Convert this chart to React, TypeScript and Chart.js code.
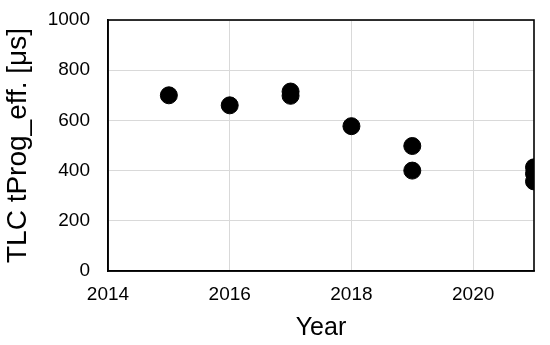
import React, { useEffect, useRef } from "react";
import { Chart, registerables } from "chart.js";

Chart.register(...registerables);

const years = [2015, 2016, 2017, 2017, 2018, 2019, 2019, 2021, 2021, 2021];
const tProgValues = [700, 660, 715, 698, 577, 498, 400, 413, 388, 357];
const xTickLabels = [2014, 2016, 2018, 2020];
const yTickLabels = [0, 200, 400, 600, 800, 1000];

const frame = {
  id: "frame",
  afterDatasetsDraw(chart: any) {
    const { ctx, chartArea } = chart;
    ctx.save();
    ctx.strokeStyle = "#000";
    ctx.lineWidth = 1.6;
    ctx.strokeRect(chartArea.left, chartArea.top, chartArea.right - chartArea.left, chartArea.bottom - chartArea.top);
    ctx.restore();
  },
};

export default function App() {
  const ref = useRef<HTMLCanvasElement>(null);
  useEffect(() => {
    const chart = new Chart(ref.current!, {
      type: "scatter",
      data: {
        datasets: [
          {
            data: years.map((x, i) => ({ x, y: tProgValues[i] })),
            backgroundColor: "#000",
            borderColor: "#000",
            pointRadius: 8.5,
            pointHoverRadius: 8.5,
          },
        ],
      },
      options: {
        animation: false,
        responsive: false,
        maintainAspectRatio: false,
        plugins: { legend: { display: false }, tooltip: { enabled: false } },
        layout: { padding: { top: 20, right: 16, left: 0, bottom: 0 } },
        scales: {
          x: {
            type: "linear",
            min: 2014,
            max: 2021,
            afterFit: (s: any) => { s.height = 74; s.paddingLeft = 0; s.paddingRight = 0; },
            afterBuildTicks: (s: any) => { s.ticks = xTickLabels.map((v) => ({ value: v })); },
            ticks: {
              includeBounds: false,
              stepSize: 2,
              padding: 12,
              color: "#000",
              font: { family: "Liberation Sans, Arial, sans-serif", size: 19 },
              callback: (v: any) => String(v),
            },
            grid: { color: "#d9d9d9", lineWidth: 1, drawTicks: false },
            border: { color: "#000", width: 1.6 },
            title: {
              display: true,
              text: "Year",
              color: "#000",
              font: { family: "Liberation Sans, Arial, sans-serif", size: 25 },
              padding: { top: 0, bottom: 2 },
            },
          },
          y: {
            type: "linear",
            min: 0,
            max: 1000,
            afterFit: (s: any) => { s.width = 108; s.paddingTop = 0; s.paddingBottom = 0; },
            afterBuildTicks: (s: any) => { s.ticks = yTickLabels.map((v) => ({ value: v })); },
            ticks: {
              padding: 18,
              color: "#000",
              font: { family: "Liberation Sans, Arial, sans-serif", size: 19 },
              callback: (v: any) => String(v),
            },
            grid: { color: "#d9d9d9", lineWidth: 1, drawTicks: false },
            border: { color: "#000", width: 1.6 },
            title: {
              display: true,
              text: "TLC tProg_eff. [μs]",
              color: "#000",
              font: { family: "Liberation Sans, Arial, sans-serif", size: 28 },
              padding: { top: 1.5, bottom: 0 },
            },
          },
        },
      },
      plugins: [frame],
    });
    return () => chart.destroy();
  }, []);
  return (
    <div style={{ position: "fixed", left: 0, top: 0, width: 550, height: 345, background: "#fff" }}>
      <canvas ref={ref} width={550} height={345} style={{ width: 550, height: 345, display: "block" }} />
    </div>
  );
}
